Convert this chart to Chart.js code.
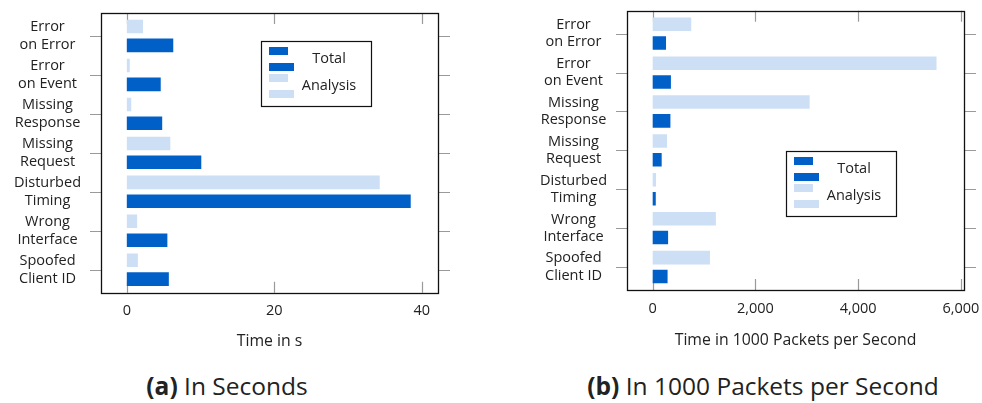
<!DOCTYPE html>
<html>
<head>
<meta charset="utf-8">
<script src="https://cdn.jsdelivr.net/npm/chart.js@4.4.1/dist/chart.umd.min.js"></script>
<style>
    html, body { margin: 0; padding: 0; background: #fff; overflow: hidden; }
    body { width: 982px; height: 403px; position: relative; font-family: "Open Sans", sans-serif; }
    canvas { position: absolute; top: 0; }
    #chartSeconds { left: 0; }
    #chartPackets { left: 490px; }
    .caption { position: absolute; top: 372px; width: 400px; font-size: 24.5px; line-height: 28px; color: #222; text-align: center; }
</style>
</head>
<body>
<canvas id="chartSeconds" width="480" height="360"></canvas>
<canvas id="chartPackets" width="520" height="360"></canvas>
<div class="caption" style="left:27px"><b>(a)</b> In Seconds</div>
<div class="caption" style="left:563px"><b>(b)</b> In 1000 Packets per Second</div>
<script>
// categories (top to bottom)
const categories = [
    ["Error", "on Error"],
    ["Error", "on Event"],
    ["Missing", "Response"],
    ["Missing", "Request"],
    ["Disturbed", "Timing"],
    ["Wrong", "Interface"],
    ["Spoofed", "Client ID"]
];

// (a) time in seconds
const totalSeconds    = [6.3, 4.6, 4.8, 10.1, 38.5, 5.5, 5.7];
const analysisSeconds = [2.2, 0.4, 0.6, 5.9, 34.3, 1.4, 1.5];
const secondsTicks    = [0, 20, 40];

// (b) in 1000 packets per second
const totalPackets    = [260, 355, 345, 175, 60, 300, 290];
const analysisPackets = [750, 5525, 3055, 280, 65, 1230, 1115];
const packetsTicks    = [0, 2000, 4000, 6000];

const DARK = '#0060c8';
const LIGHT = '#cddff4';
const TEXT = '#222';
const FAMILY = '"Open Sans", sans-serif';

// frame and tick marks (pgfplots style)
const framePlugin = {
    id: 'frame',
    beforeDatasetsDraw(chart) {
        const {ctx, chartArea: a, scales} = chart;
        ctx.save();
        ctx.strokeStyle = '#9a9a9a';
        ctx.lineWidth = 1.2;
        ctx.beginPath();
        scales.x.ticks.forEach(t => {
            const px = Math.round(scales.x.getPixelForValue(t.value)) + 0.5;
            ctx.moveTo(px, a.top); ctx.lineTo(px, a.top + 11);
            ctx.moveTo(px, a.bottom); ctx.lineTo(px, a.bottom - 11);
        });
        scales.y.ticks.forEach(t => {
            const py = Math.round(scales.y.getPixelForValue(t.value)) + 0.5;
            ctx.moveTo(a.left - 11, py); ctx.lineTo(a.left, py);
            ctx.moveTo(a.right, py); ctx.lineTo(a.right + 12, py);
        });
        ctx.stroke();
        ctx.restore();
    },
    afterDatasetsDraw(chart) {
        const {ctx, chartArea: a} = chart;
        ctx.save();
        ctx.strokeStyle = '#111';
        ctx.lineWidth = 1.3;
        ctx.strokeRect(Math.round(a.left) + 0.5, Math.round(a.top) + 0.5,
            Math.round(a.right - a.left), Math.round(a.bottom - a.top));
        ctx.restore();
    }
};

// legend box with two swatches per entry
const boxLegend = {
    id: 'boxLegend',
    afterDraw(chart, args, opts) {
        const {ctx, chartArea} = chart;
        const x0 = Math.round(chartArea.left + opts.dx);
        const y0 = Math.round(chartArea.top + opts.dy);
        ctx.save();
        ctx.fillStyle = '#fff';
        ctx.fillRect(x0, y0, 110, 65);
        ctx.strokeStyle = '#111';
        ctx.lineWidth = 1.2;
        ctx.strokeRect(x0 + 0.5, y0 + 0.5, 110, 65);
        [1, 0].forEach((di, row) => {
            const ds = chart.data.datasets[di];
            const top = y0 + 6 + row * 27;
            ctx.fillStyle = ds.backgroundColor;
            ctx.fillRect(x0 + 8, top, 19, 8);
            ctx.fillRect(x0 + 8, top + 16, 25, 8);
            ctx.fillStyle = TEXT;
            ctx.font = '14.5px ' + FAMILY;
            ctx.textAlign = 'center';
            ctx.textBaseline = 'middle';
            ctx.fillText(ds.label, x0 + 68, top + 12);
        });
        ctx.restore();
    }
};

function buildChart(id, cfg) {
    const font = {family: FAMILY, size: 14.5};
    return new Chart(document.getElementById(id), {
        type: 'bar',
        data: {
            datasets: [
                {
                    label: 'Analysis',
                    data: cfg.analysis.map((v, i) => ({x: v, y: i})),
                    backgroundColor: LIGHT,
                    categoryPercentage: 0.967,
                    barPercentage: 0.72
                },
                {
                    label: 'Total',
                    data: cfg.total.map((v, i) => ({x: v, y: i})),
                    backgroundColor: DARK,
                    categoryPercentage: 0.967,
                    barPercentage: 0.72
                }
            ]
        },
        options: {
            animation: false,
            responsive: false,
            indexAxis: 'y',
            layout: {padding: cfg.padding},
            plugins: {
                legend: {display: false},
                tooltip: {enabled: false},
                boxLegend: cfg.legend
            },
            scales: {
                x: {
                    type: 'linear',
                    min: cfg.xMin,
                    max: cfg.xMax,
                    offset: false,
                    afterBuildTicks: s => { s.ticks = cfg.ticks.map(v => ({value: v})); },
                    afterFit: s => { s.height = cfg.xHeight; s.paddingLeft = 0; s.paddingRight = 0; },
                    grid: {display: false, drawTicks: false},
                    border: {display: false},
                    ticks: {
                        font: font, color: TEXT, padding: cfg.xPad, maxRotation: 0, autoSkip: false,
                        callback: v => v.toLocaleString('en-US')
                    },
                    title: {
                        display: true, text: cfg.title, color: TEXT,
                        font: {family: FAMILY, size: 15.8},
                        padding: {top: 0, bottom: cfg.titlePad}
                    }
                },
                y: {
                    type: 'linear',
                    reverse: true,
                    offset: false,
                    min: -0.59,
                    max: 6.59,
                    afterBuildTicks: s => { s.ticks = categories.map((c, i) => ({value: i})); },
                    afterFit: s => { s.width = cfg.yWidth; s.paddingTop = 0; s.paddingBottom = 0; },
                    grid: {display: false, drawTicks: false, offset: false},
                    border: {display: false},
                    ticks: {
                        font: font, color: TEXT, padding: 20, autoSkip: false,
                        crossAlign: 'center',
                        lineHeight: 1.29,
                        callback: v => categories[v]
                    }
                }
            }
        },
        plugins: [framePlugin, boxLegend]
    });
}

buildChart('chartSeconds', {
    total: totalSeconds,
    analysis: analysisSeconds,
    ticks: secondsTicks,
    xMin: -3.5, xMax: 42.2,
    title: 'Time in s',
    padding: {left: 0, top: 13, right: 42, bottom: 0},
    yWidth: 101, xHeight: 67.3, xPad: 9, titlePad: 9,
    legend: {dx: 160, dy: 28}
});

buildChart('chartPackets', {
    total: totalPackets,
    analysis: analysisPackets,
    ticks: packetsTicks,
    xMin: -500, xMax: 6060,
    title: 'Time in 1000 Packets per Second',
    padding: {left: 0, top: 10.7, right: 46, bottom: 0},
    yWidth: 137, xHeight: 70, xPad: 10, titlePad: 10,
    legend: {dx: 159, dy: 140}
});
</script>
</body>
</html>
